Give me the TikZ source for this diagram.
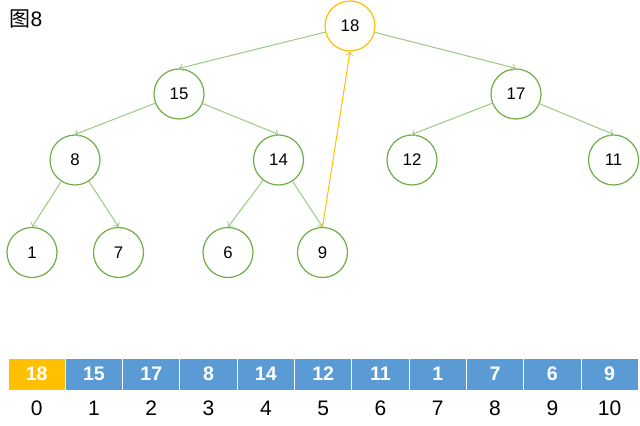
\documentclass[tikz,border=0pt]{standalone}
\usepackage{fontspec}
\setmainfont{Liberation Sans}
\newfontfamily\cjk{Noto Sans CJK SC}
\usetikzlibrary{arrows}
\definecolor{heapgreen}{HTML}{70AD47}
\definecolor{edgegreen}{HTML}{9CC981}
\definecolor{heapyellow}{HTML}{FFC000}
\definecolor{cellblue}{HTML}{5B9BD5}
\tikzstyle{heap} = [circle,draw=heapgreen,line width=0.6pt,minimum size=25pt,inner sep=0pt,font=\fontsize{8.4}{10}\selectfont]
\tikzstyle{cell} = [rectangle,fill=cellblue,draw=white,line width=0.5pt,minimum width=28.65pt,minimum height=16pt,text=white,font=\fontsize{9.8}{12}\selectfont\bfseries]
\tikzstyle{idx} = [font=\fontsize{10.5}{12}\selectfont]

\begin{document}
\begin{tikzpicture}[x=0.5pt,y=-0.5pt,->,>=to,
  every edge/.append style={draw=edgegreen,line width=0.5pt}]
  \useasboundingbox (0,0) rectangle (640,426);
  \node[font=\fontsize{10.5}{12}\selectfont] (title) at (26,19) {{\cjk 图}8};

  % tree
  \node[heap, draw=heapyellow] (t0) at (350,26) {18};
  \node[heap] (t1) at (179,94) {15};
  \node[heap] (t2) at (516,94) {17};
  \node[heap] (t3) at (75,160) {8};
  \node[heap] (t4) at (278.5,160) {14};
  \node[heap] (t5) at (412,160) {12};
  \node[heap] (t6) at (613.5,160) {11};
  \node[heap] (t7) at (32,252.5) {1};
  \node[heap] (t8) at (118.5,252.5) {7};
  \node[heap] (t9) at (228,252.5) {6};
  \node[heap] (t10) at (322.5,252.5) {9};
  \path (t0) edge (t1.north)
             edge (t2.north)
        (t1) edge (t3.north)
             edge (t4.north)
        (t2) edge (t5.north)
             edge (t6.north)
        (t3) edge (t7.north)
             edge (t8.north)
        (t4) edge (t9.north)
             edge (t10.north);
  \draw[heapyellow, line width=0.5pt] (t10.north) -- (t0.south);

  % array
  \def\y{374}
  \def\yi{408}
  \node[cell, fill=heapyellow] (c0) at (36.65,\y) {18};
  \node[cell] (c1) at (93.95,\y) {15};
  \node[cell] (c2) at (151.25,\y) {17};
  \node[cell] (c3) at (208.55,\y) {8};
  \node[cell] (c4) at (265.85,\y) {14};
  \node[cell] (c5) at (323.15,\y) {12};
  \node[cell] (c6) at (380.45,\y) {11};
  \node[cell] (c7) at (437.75,\y) {1};
  \node[cell] (c8) at (495.05,\y) {7};
  \node[cell] (c9) at (552.35,\y) {6};
  \node[cell] (c10) at (609.65,\y) {9};
  \node[idx] (i0) at (36.65,\yi) {0};
  \node[idx] (i1) at (93.95,\yi) {1};
  \node[idx] (i2) at (151.25,\yi) {2};
  \node[idx] (i3) at (208.55,\yi) {3};
  \node[idx] (i4) at (265.85,\yi) {4};
  \node[idx] (i5) at (323.15,\yi) {5};
  \node[idx] (i6) at (380.45,\yi) {6};
  \node[idx] (i7) at (437.75,\yi) {7};
  \node[idx] (i8) at (495.05,\yi) {8};
  \node[idx] (i9) at (552.35,\yi) {9};
  \node[idx] (i10) at (609.65,\yi) {10};
\end{tikzpicture}
\end{document}
